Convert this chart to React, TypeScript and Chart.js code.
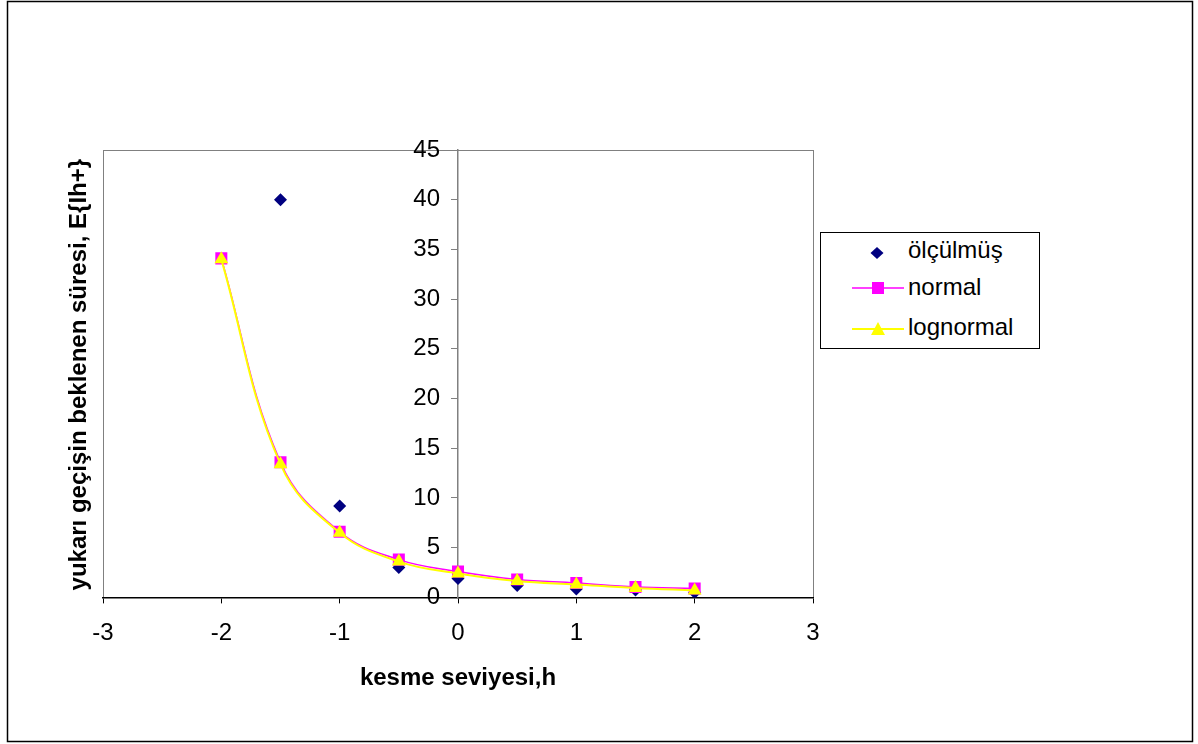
import React, { useEffect, useRef } from "react";
import { Chart, registerables } from "chart.js";

Chart.register(...registerables);

const FONT = "'Liberation Sans', Arial, sans-serif";

const hValues = [-2, -1.5, -1, -0.5, 0, 0.5, 1, 1.5, 2];
const measuredH = [-1.5, -1, -0.5, 0, 0.5, 1, 1.5, 2];
const measuredValues = [40, 9.2, 3.0, 1.9, 1.2, 0.85, 0.75, 0.5];
const normalValues = [34.1, 13.6, 6.6, 3.8, 2.6, 1.8, 1.45, 1.05, 0.9];
const lognormalValues = [34.0, 13.4, 6.5, 3.6, 2.4, 1.65, 1.3, 0.95, 0.7];

const xTitle = "kesme seviyesi,h";
const yTitle = "yukarı geçişin beklenen süresi, E{Ih+}";
const legendLabels = ["ölçülmüş", "normal", "lognormal"];

const framePlugin = {
  id: "frame",
  beforeDraw(chart: any) {
    const { ctx, width, height, chartArea } = chart;
    ctx.save();
    ctx.fillStyle = "#ffffff";
    ctx.fillRect(0, 0, width, height);
    ctx.strokeStyle = "#000000";
    ctx.lineWidth = 1.5;
    ctx.strokeRect(7.5, 1.5, 1185, 740);
    ctx.strokeStyle = "#808080";
    ctx.lineWidth = 1;
    ctx.strokeRect(
      Math.round(chartArea.left) + 0.5,
      Math.round(chartArea.top) + 0.5,
      Math.round(chartArea.right - chartArea.left),
      Math.round(chartArea.bottom - chartArea.top)
    );
    ctx.restore();
    // place the y-axis tick labels to the left of the centred axis
    const yScale = chart.scales.y;
    const axisX = chart.scales.x.getPixelForValue(0);
    const items = yScale.getLabelItems(chartArea);
    items.forEach((it: any) => {
      it.options.translation = [axisX - 18, it.options.translation[1]];
      it.options.textAlign = "right";
    });
  },
  afterDraw(chart: any) {
    const { ctx, chartArea } = chart;
    ctx.save();
    ctx.translate(86, (chartArea.top + chartArea.bottom) / 2 + 1);
    ctx.rotate(-Math.PI / 2);
    ctx.font = `bold 24px ${FONT}`;
    ctx.fillStyle = "#000000";
    ctx.textAlign = "center";
    ctx.textBaseline = "alphabetic";
    ctx.fillText(yTitle, 0, 0);
    ctx.restore();
  },
};

function LegendMarker({ kind }: { kind: number }) {
  if (kind === 0) {
    return (
      <svg width="56" height="20" style={{ display: "block" }}>
        <polygon points="25,4 31.5,10 25,16 18.5,10" fill="#000080" />
      </svg>
    );
  }
  if (kind === 1) {
    return (
      <svg width="56" height="20" style={{ display: "block" }}>
        <line x1="0" y1="10" x2="52" y2="10" stroke="#FF00FF" strokeWidth="1.5" />
        <rect x="20" y="4" width="12" height="12" fill="#FF00FF" />
      </svg>
    );
  }
  return (
    <svg width="56" height="20" style={{ display: "block" }}>
      <line x1="0" y1="10" x2="52" y2="10" stroke="#FFFF00" strokeWidth="2" />
      <polygon points="26,3 33,16 19,16" fill="#FFFF00" />
    </svg>
  );
}

export default function App() {
  const canvasRef = useRef<HTMLCanvasElement | null>(null);

  useEffect(() => {
    if (!canvasRef.current) return;
    const chart = new Chart(canvasRef.current, {
      type: "scatter",
      data: {
        datasets: [
          {
            label: legendLabels[2],
            data: hValues.map((h, i) => ({ x: h, y: lognormalValues[i] })),
            showLine: true,
            borderColor: "#FFFF00",
            backgroundColor: "#FFFF00",
            borderWidth: 2,
            tension: 0.4,
            pointStyle: "triangle",
            pointRadius: 8,
            pointBorderWidth: 0,
            order: 0,
          },
          {
            label: legendLabels[1],
            data: hValues.map((h, i) => ({ x: h, y: normalValues[i] })),
            showLine: true,
            borderColor: "#FF00FF",
            backgroundColor: "#FF00FF",
            borderWidth: 1.5,
            tension: 0.4,
            pointStyle: "rect",
            pointRadius: 8.5,
            pointBorderWidth: 0,
            order: 1,
          },
          {
            label: legendLabels[0],
            data: measuredH.map((h, i) => ({ x: h, y: measuredValues[i] })),
            showLine: false,
            borderColor: "#000080",
            backgroundColor: "#000080",
            pointStyle: "rectRot",
            pointRadius: 6.5,
            pointBorderWidth: 0,
            order: 2,
          },
        ],
      },
      options: {
        animation: false,
        responsive: false,
        layout: { padding: { left: 103, right: 385, top: 150, bottom: 51 } },
        plugins: {
          legend: { display: false },
          tooltip: { enabled: false },
        },
        scales: {
          x: {
            type: "linear",
            position: "bottom",
            min: -3,
            max: 3,
            ticks: {
              stepSize: 1,
              color: "#000000",
              font: { family: FONT, size: 24 },
              padding: 16,
            },
            grid: {
              display: true,
              drawOnChartArea: false,
              drawTicks: true,
              tickLength: 6,
              color: "#000000",
            },
            border: { display: true, color: "#000000", width: 1.5 },
            title: {
              display: true,
              text: xTitle,
              color: "#000000",
              font: { family: FONT, size: 24, weight: "bold" },
              padding: { top: 0, bottom: 0 },
            },
          },
          y: {
            type: "linear",
            position: { x: 0 } as any,
            min: 0,
            max: 45,
            ticks: {
              stepSize: 5,
              color: "#000000",
              font: { family: FONT, size: 24 },
              padding: 12,
            },
            grid: {
              display: true,
              drawOnChartArea: false,
              drawTicks: true,
              tickLength: 6,
              color: "#808080",
            },
            border: { display: true, color: "#808080", width: 1.5 },
          },
        },
      } as any,
      plugins: [framePlugin],
    });
    return () => chart.destroy();
  }, []);

  const textTops = [3, 40, 80];
  const markerTops = [10, 45, 86];

  return (
    <div style={{ position: "fixed", left: 0, top: 0, width: 1198, height: 744 }}>
      <canvas ref={canvasRef} width={1198} height={744} style={{ display: "block", width: 1198, height: 744 }} />
      <div
        style={{
          position: "absolute",
          left: 820,
          top: 232,
          width: 220,
          height: 117,
          boxSizing: "border-box",
          border: "1.5px solid #000000",
          background: "#ffffff",
          fontFamily: FONT,
          fontSize: 24,
          color: "#000000",
        }}
      >
        {legendLabels.map((label, i) => (
          <React.Fragment key={label}>
            <div style={{ position: "absolute", left: 31, top: markerTops[i] }}>
              <LegendMarker kind={i} />
            </div>
            <div
              style={{
                position: "absolute",
                left: 87,
                top: textTops[i],
                lineHeight: "28px",
                whiteSpace: "nowrap",
              }}
            >
              {label}
            </div>
          </React.Fragment>
        ))}
      </div>
    </div>
  );
}
